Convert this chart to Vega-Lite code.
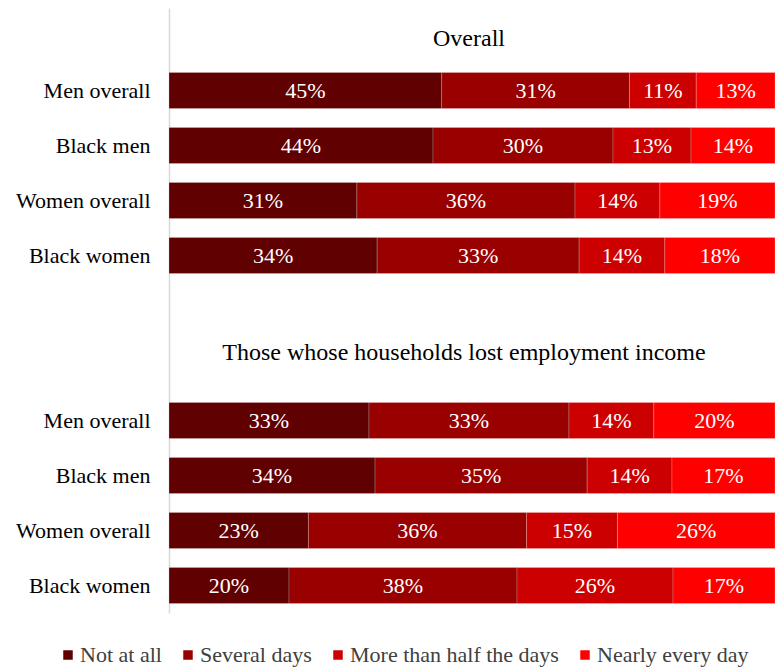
{
  "$schema": "https://vega.github.io/schema/vega-lite/v6.json",
  "autosize": {"type": "none"},
  "padding": {"left": 169, "top": 8, "right": 0, "bottom": 56},
  "width": 606,
  "height": 605,
  "config": {
    "font": "Liberation Serif",
    "view": {"stroke": null},
    "axis": {"grid": false}
  },
  "datasets": {
    "bars": [
      {"row": "A|Men overall", "cat": "Not at all", "v": 0.45},
      {"row": "A|Men overall", "cat": "Several days", "v": 0.31},
      {"row": "A|Men overall", "cat": "More than half the days", "v": 0.11},
      {"row": "A|Men overall", "cat": "Nearly every day", "v": 0.13},
      {"row": "A|Black men", "cat": "Not at all", "v": 0.44},
      {"row": "A|Black men", "cat": "Several days", "v": 0.30},
      {"row": "A|Black men", "cat": "More than half the days", "v": 0.13},
      {"row": "A|Black men", "cat": "Nearly every day", "v": 0.14},
      {"row": "A|Women overall", "cat": "Not at all", "v": 0.31},
      {"row": "A|Women overall", "cat": "Several days", "v": 0.36},
      {"row": "A|Women overall", "cat": "More than half the days", "v": 0.14},
      {"row": "A|Women overall", "cat": "Nearly every day", "v": 0.19},
      {"row": "A|Black women", "cat": "Not at all", "v": 0.34},
      {"row": "A|Black women", "cat": "Several days", "v": 0.33},
      {"row": "A|Black women", "cat": "More than half the days", "v": 0.14},
      {"row": "A|Black women", "cat": "Nearly every day", "v": 0.18},
      {"row": "B|Men overall", "cat": "Not at all", "v": 0.33},
      {"row": "B|Men overall", "cat": "Several days", "v": 0.33},
      {"row": "B|Men overall", "cat": "More than half the days", "v": 0.14},
      {"row": "B|Men overall", "cat": "Nearly every day", "v": 0.20},
      {"row": "B|Black men", "cat": "Not at all", "v": 0.34},
      {"row": "B|Black men", "cat": "Several days", "v": 0.35},
      {"row": "B|Black men", "cat": "More than half the days", "v": 0.14},
      {"row": "B|Black men", "cat": "Nearly every day", "v": 0.17},
      {"row": "B|Women overall", "cat": "Not at all", "v": 0.23},
      {"row": "B|Women overall", "cat": "Several days", "v": 0.36},
      {"row": "B|Women overall", "cat": "More than half the days", "v": 0.15},
      {"row": "B|Women overall", "cat": "Nearly every day", "v": 0.26},
      {"row": "B|Black women", "cat": "Not at all", "v": 0.20},
      {"row": "B|Black women", "cat": "Several days", "v": 0.38},
      {"row": "B|Black women", "cat": "More than half the days", "v": 0.26},
      {"row": "B|Black women", "cat": "Nearly every day", "v": 0.17}
    ]
  },
  "encoding": {
    "y": {
      "field": "row",
      "type": "nominal",
      "title": null,
      "scale": {
        "domain": ["t1", "A|Men overall", "A|Black men", "A|Women overall", "A|Black women", "g", "t2", "B|Men overall", "B|Black men", "B|Women overall", "B|Black women"],
        "paddingInner": 0.345,
        "paddingOuter": 0.1725
      },
      "axis": {
        "labelExpr": "indexof(datum.value,'|') > 0 ? split(datum.value,'|')[1] : ''",
        "ticks": false,
        "labelPadding": 19,
        "labelFontSize": 22,
        "labelColor": "#000000",
        "domainColor": "#d9d9d9",
        "domainWidth": 1.5,
        "labelLimit": 300
      }
    }
  },
  "layer": [
    {
      "data": {"name": "bars"},
      "transform": [
        {"calculate": "indexof(['Not at all','Several days','More than half the days','Nearly every day'], datum.cat)", "as": "rank"},
        {"stack": "v", "groupby": ["row"], "sort": [{"field": "rank", "order": "ascending"}], "offset": "normalize", "as": ["s0", "s1"]},
        {"calculate": "(datum.s0 + datum.s1) / 2", "as": "mid"}
      ],
      "layer": [
        {
          "mark": {"type": "bar", "stroke": "#ffffff", "strokeWidth": 0.5, "strokeOpacity": 0.4},
          "encoding": {
            "x": {"field": "s0", "type": "quantitative", "axis": null, "scale": {"domain": [0, 1], "nice": false}},
            "x2": {"field": "s1"},
            "color": {
              "field": "cat",
              "type": "nominal",
              "scale": {
                "domain": ["Not at all", "Several days", "More than half the days", "Nearly every day"],
                "range": ["#600000", "#990000", "#cc0000", "#ff0000"]
              },
              "legend": {
                "title": null,
                "orient": "none",
                "direction": "horizontal",
                "legendX": -112,
                "legendY": 636,
                "symbolType": "square",
                "symbolSize": 90,
                "symbolStrokeWidth": 0,
                "labelFontSize": 22,
                "labelColor": "#404040",
                "labelOffset": 1,
                "columnPadding": 15,
                "labelLimit": 400
              }
            }
          }
        },
        {
          "mark": {"type": "text", "color": "white", "fontSize": 22, "baseline": "middle", "align": "center"},
          "encoding": {
            "x": {"field": "mid", "type": "quantitative"},
            "text": {"field": "v", "format": ".0%"}
          }
        }
      ]
    },
    {
      "data": {"values": [{"row": "t1", "title": "Overall"}]},
      "mark": {"type": "text", "fontSize": 24, "color": "#000000", "baseline": "middle", "dy": 3, "dx": -3},
      "encoding": {
        "x": {"datum": 0.5, "type": "quantitative"},
        "text": {"field": "title"}
      }
    },
    {
      "data": {"values": [{"row": "t2", "title": "Those whose households lost employment income"}]},
      "mark": {"type": "text", "fontSize": 24, "color": "#000000", "baseline": "middle", "dy": -13, "dx": -8},
      "encoding": {
        "x": {"datum": 0.5, "type": "quantitative"},
        "text": {"field": "title"}
      }
    }
  ]
}
